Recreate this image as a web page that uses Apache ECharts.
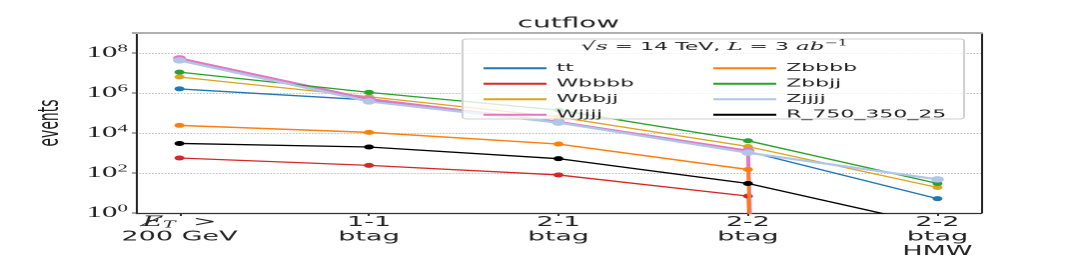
<!DOCTYPE html>
<html><head><meta charset="utf-8">
<script src="https://cdn.jsdelivr.net/npm/echarts@6/dist/echarts.min.js"></script>
<style>
html,body{margin:0;padding:0;background:#fff;overflow:hidden;}
#wrap{width:1089px;height:277px;overflow:hidden;position:relative;}
#chart{width:545px;height:277px;transform:scaleX(1.998);transform-origin:0 0;}
</style></head><body>
<div id="wrap"><div id="chart"></div></div>
<script>
// ---- data ----
const categories = [0, 1, 2, 3, 4];
const xLabels = ['MET', '1-1\nbtag', '2-1\nbtag', '2-2\nbtag', '2-2\nbtag\nHMW'];
const yTickExponents = [0, 2, 4, 6, 8];
const seriesNames = ['tt', 'Wbbbb', 'Wbbjj', 'Wjjjj', 'Zbbbb', 'Zbbjj', 'Zjjjj', 'R_750_350_25'];
const tt      = [1.6e6, 4.5e5, 3.5e4, 1.2e3, 5.2];
const Wbbbb   = [560, 240, 80, 7, 0];
const Wbbjj   = [6.3e6, 6.5e5, 6.3e4, 2.1e3, 19];
const Wjjjj   = [5.4e7, 5.0e5, 3.6e4, 1.3e3, 0];
const Zbbbb   = [2.4e4, 1.08e4, 2.8e3, 150, 0];
const Zbbjj   = [1.1e7, 1.08e6, 1.4e5, 4.1e3, 30];
const Zjjjj   = [4.3e7, 3.8e5, 3.3e4, 1.04e3, 48];
const R_750_350_25 = [3.0e3, 2.0e3, 520, 30, 0.23];

const values = [tt, Wbbbb, Wbbjj, Wjjjj, Zbbbb, Zbbjj, Zjjjj, R_750_350_25];
const colors = ['#1f77b4', '#d62728', '#daa520', '#e377c2', '#ff7f0e', '#2ca02c', '#aec7e8', '#000000'];
const widths = [1.3, 1.3, 1.3, 2, 1.5, 1.3, 2.2, 1.3];
const symSizes = [5, 5, 5, 6.5, 5, 5, 6.5, 5];

// matplotlib clips non-positive values on a log axis to a tiny positive number,
// which draws a near-vertical drop out of the frame.
const CLIP = 1e-300;

const chart = echarts.init(document.getElementById('chart'), null, {renderer: 'canvas', devicePixelRatio: 2});

const series = seriesNames.map((name, k) => ({
  name: name,
  type: 'line',
  xAxisIndex: 0, yAxisIndex: 0,
  data: categories.map((c, i) => [c, values[k][i] > 0 ? values[k][i] : CLIP]),
  symbol: 'circle',
  symbolSize: symSizes[k],
  showSymbol: true,
  clip: true,
  color: colors[k],
  lineStyle: {width: widths[k], color: colors[k]},
  itemStyle: {color: colors[k]},
  z: 2 + k * 0.01,
  animation: false
}));

const legendCommon = {
  orient: 'vertical', itemWidth: 31.5, itemHeight: 2, itemGap: 0, itemTextGap: 12.5,
  icon: 'rect', selectedMode: false, z: 100,
  textStyle: {fontFamily: 'DejaVu Sans', fontSize: 11, lineHeight: 15.5, color: '#222'}
};

const option = {
  animation: false,
  backgroundColor: '#fff',
  title: {
    text: 'cutflow', left: 279.5, top: 12, textAlign: 'center',
    textStyle: {fontFamily: 'DejaVu Sans', fontSize: 14, fontWeight: 'normal', color: '#222'}
  },
  grid: {left: 68, right: 54, top: 33, bottom: 64, containLabel: false},
  legend: [
    Object.assign({}, legendCommon, {left: 237, top: 55.5, data: seriesNames.slice(0, 4)}),
    Object.assign({}, legendCommon, {left: 352, top: 55.5, data: seriesNames.slice(4)})
  ],
  xAxis: [{
    type: 'value', min: -0.23, max: 4.23, position: 'bottom',
    axisLine: {show: true, onZero: false, lineStyle: {color: '#333', width: 1.2}},
    axisTick: {show: true, length: 3, customValues: categories, lineStyle: {color: '#333'}},
    splitLine: {show: false},
    axisLabel: {
      customValues: categories, margin: 2, lineHeight: 14.5,
      fontFamily: 'DejaVu Sans', fontSize: 13.5, color: '#222',
      formatter: function (v) {
        const i = Math.round(v);
        if (i === 0) return '{e|E\u0338}{t|T}{g|  >}\n200 GeV';
        return xLabels[i];
      },
      rich: {
        e: {fontFamily: 'DejaVu Serif', fontStyle: 'italic', fontSize: 14, lineHeight: 14.5, color: '#222'},
        t: {fontFamily: 'DejaVu Serif', fontStyle: 'italic', fontSize: 9.5, lineHeight: 14.5, padding: [6, 0, 0, 0], color: '#222'},
        g: {fontFamily: 'DejaVu Serif', fontSize: 14, lineHeight: 14.5, color: '#222'}
      }
    }
  }, {
    type: 'value', min: -0.23, max: 4.23, position: 'top',
    axisLine: {show: true, onZero: false, lineStyle: {color: '#b0b0b0', width: 2}},
    axisTick: {show: false}, axisLabel: {show: false}, splitLine: {show: false}
  }],
  yAxis: [{
    type: 'log', logBase: 10, min: 1, max: 1e9, interval: 2,
    name: 'events', nameLocation: 'middle', nameRotate: 90, nameGap: 29,
    nameTextStyle: {fontFamily: 'DejaVu Sans', fontSize: 14, color: '#222'},
    axisLine: {show: true, onZero: false, lineStyle: {color: '#222', width: 1}},
    axisTick: {show: true, length: 2, lineStyle: {color: '#aaa', width: 2}},
    splitLine: {show: true, lineStyle: {color: '#bbb', width: 1, type: [0.8, 0.8]}},
    axisLabel: {
      margin: 4,
      formatter: function (v) {
        const e = Math.round(Math.log10(v));
        if (yTickExponents.indexOf(e) < 0) return '';
        return '{b|10}{s|' + e + '}';
      },
      rich: {
        b: {fontFamily: 'Liberation Serif', fontSize: 15.5, color: '#222'},
        s: {fontFamily: 'Liberation Serif', fontSize: 10.5, color: '#222', padding: [0, 0, 9, 0]}
      }
    }
  }, {
    type: 'value', min: 0, max: 1, position: 'right',
    axisLine: {show: true, onZero: false, lineStyle: {color: '#222', width: 1}},
    axisTick: {show: false}, axisLabel: {show: false}, splitLine: {show: false}
  }],
  graphic: [{
    type: 'rect', z: 50, silent: true,
    shape: {x: 231.5, y: 39, width: 251, height: 80, r: 2},
    style: {fill: 'rgba(255,255,255,0.8)', stroke: '#d0d0d0', lineWidth: 1}
  }, {
    type: 'text', z: 100, silent: true, x: 357.5, y: 47,
    style: {
      text: '{m|\u221A}{i|s}{n| = 14 TeV, }{i|L}{n| = 3 }{i|ab}{p|\u22121}',
      align: 'center', verticalAlign: 'middle',
      rich: {
        m: {fontFamily: 'DejaVu Serif', fontSize: 12, fill: '#222'},
        i: {fontFamily: 'DejaVu Serif', fontStyle: 'italic', fontSize: 11.5, fill: '#222'},
        n: {fontFamily: 'DejaVu Sans', fontSize: 11, fill: '#222'},
        p: {fontFamily: 'DejaVu Serif', fontSize: 8, fill: '#222', padding: [0, 0, 7, 0]}
      }
    }
  }],
  series: series
};
chart.setOption(option);
</script>
</body></html>
